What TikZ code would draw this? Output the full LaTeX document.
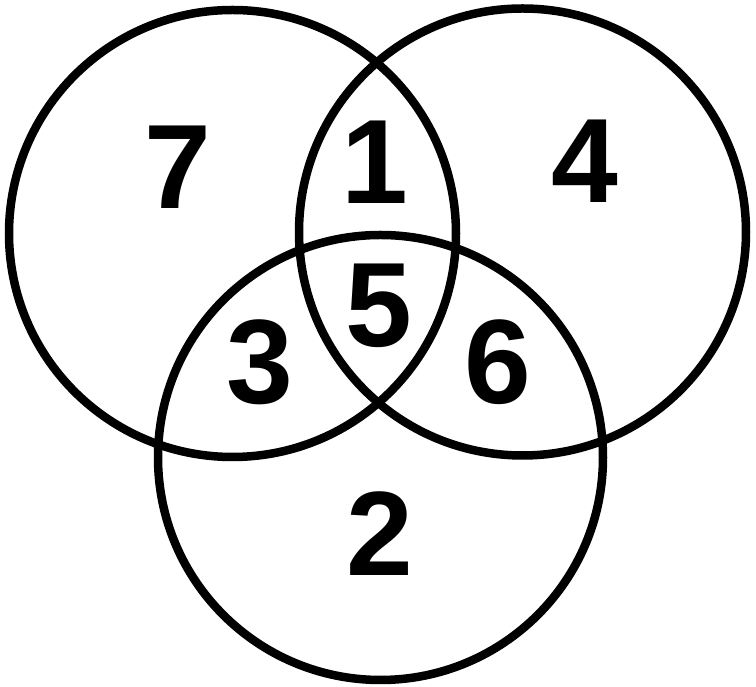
\documentclass[tikz,border=0pt]{standalone}
\usepackage{fontspec}
\setmainfont{Liberation Sans}
\begin{document}
\begin{tikzpicture}[x=1pt,y=1pt,
  ring/.style={draw=black,line width=8.5pt},
  num/.style={inner sep=0pt,anchor=base,font=\bfseries\fontsize{120}{120}\selectfont}]
\useasboundingbox[fill=white] (0,0) rectangle (756,687);
\draw[ring] (232.5,453.5) circle[radius=223.5];
\draw[ring] (522.5,455) circle[radius=223.5];
\draw[ring] (380.5,229.5) circle[radius=222.5];
\node[num] (n7) at (178,687-209) {7};
\node[num] (n1) at (375,687-204) {1};
\node[num] (n4) at (585,687-203) {4};
\node[num] (n5) at (379,687-346.5) {5};
\node[num] (n3) at (259.5,687-403.5) {3};
\node[num] (n6) at (497.5,687-403.5) {6};
\node[num] (n2) at (379.5,687-575.5) {2};
\end{tikzpicture}
\end{document}
